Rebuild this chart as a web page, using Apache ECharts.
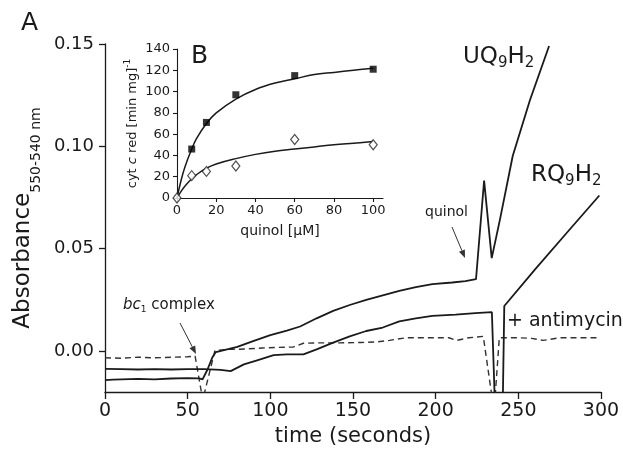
<!DOCTYPE html>
<html><head><meta charset="utf-8">
<script src="https://cdn.jsdelivr.net/npm/echarts@6/dist/echarts.min.js"></script>
<style>html,body{margin:0;padding:0;background:#fff}#c{width:623px;height:457px}</style>
</head><body><div id="c"></div>
<script>
// ---- Main panel A data (time in s, absorbance) ----
const tUQ = [0,5,10,20,30,40,50,57,59,62,65,67,72,80,90,100,110,118,128,138,148,158,168,178,188,198,210,218,224.4,229.3,233.9,239,246.6,257,268.6];
const vUQ = [-0.0142,-0.0140,-0.0138,-0.0136,-0.0138,-0.0134,-0.0132,-0.0133,-0.0138,-0.0090,-0.0030,-0.0005,0.0005,0.0020,0.0050,0.0078,0.0100,0.0120,0.0160,0.0196,0.0225,0.0250,0.0272,0.0294,0.0312,0.0327,0.0335,0.0342,0.0351,0.0833,0.0454,0.0647,0.0953,0.1225,0.1490];
const tRQ = [0,10,20,30,40,50,60,70,76,84,92,102,110,120,128,138,148,158,168,178,188,198,212,224,234,236,240.5,241.5,260,280,299];
const vRQ = [-0.0087,-0.0088,-0.0090,-0.0088,-0.0090,-0.0088,-0.0088,-0.0092,-0.0098,-0.0065,-0.0045,-0.0020,-0.0016,-0.0016,0.0008,0.0041,0.0072,0.0098,0.0115,0.0145,0.0160,0.0172,0.0178,0.0185,0.0190,-0.0300,-0.0300,0.0220,0.0398,0.0584,0.0760];
const tAM = [0,10,20,30,40,50,54.5,58.5,60,66.5,75,85,95,105,114,120,130,142,155,165,172,182,195,208,212.7,220,228.8,234,236,238.5,250,258,265,275,290,299.5];
const vAM = [-0.0033,-0.0035,-0.0030,-0.0033,-0.0030,-0.0028,-0.0025,-0.0210,-0.0210,0.0003,0.0008,0.0010,0.0015,0.0018,0.0020,0.0038,0.0040,0.0040,0.0042,0.0045,0.0052,0.0065,0.0065,0.0065,0.0052,0.0065,0.0072,-0.0220,-0.0220,0.0065,0.0065,0.0062,0.0052,0.0065,0.0065,0.0065];
const timeTicks = [0,50,100,150,200,250,300];
const absTicks = [0,0.05,0.10,0.15];

// ---- Inset B data (quinol uM, cyt c red rate) ----
const qSq = [7.5,15,30,60,100];
const vSq = [46,71,97,115,121];
const qDi = [0,7.5,15,30,60,100];
const vDi = [0,21,25,30,55,50];
const qFit = [0,2,4,7.5,10,15,20,30,40,50,60,70,80,90,100];
const vFitSq = [0,16,29,46,56,70,80,93,102,108,112,116,118,120,122];
const vFitDi = [0,6,11,18,22,28,32,37,41,44,46,48,50,51.5,53];
const quinolTicks = [0,20,40,60,80,100];

const zip = (a,b) => a.map((x,i)=>[x,b[i]]);
const FF = 'DejaVu Sans';
const INK = '#1a1a1a';

function arrow(x1,y1,x2,y2){
  const a=Math.atan2(y2-y1,x2-x1), L=8, W=3.2;
  const bx=x2-L*Math.cos(a), by=y2-L*Math.sin(a);
  const px=-Math.sin(a)*W, py=Math.cos(a)*W;
  return [
    {type:'line',shape:{x1,y1,x2:bx,y2:by},style:{stroke:'#333',lineWidth:1}},
    {type:'polygon',shape:{points:[[x2,y2],[bx+px,by+py],[bx-px,by-py]]},style:{fill:'#333'}}
  ];
}

const chart = echarts.init(document.getElementById('c'), null, {renderer:'canvas'});
const axisBase = {
  axisLine:{show:true,onZero:false,lineStyle:{color:INK,width:1.3}},
  splitLine:{show:false}
};
chart.setOption({
  animation:false,
  backgroundColor:'#fff',
  grid:[
    {left:105, top:44, width:496, height:348, containLabel:false, outerBoundsMode:'none'},
    {left:177, top:49, width:206, height:149, containLabel:false, outerBoundsMode:'none'}
  ],
  xAxis:[
    Object.assign({}, axisBase, {
      gridIndex:0, type:'value', min:0, max:300, interval:50,
      axisTick:{show:true,length:7,lineStyle:{color:INK,width:1.3}},
      axisLabel:{fontFamily:FF,fontSize:19,color:INK,margin:10,
        customValues:timeTicks},
      name:'time (seconds)', nameLocation:'middle', nameGap:33,
      nameTextStyle:{fontFamily:FF,fontSize:21,color:INK}
    }),
    Object.assign({}, axisBase, {
      gridIndex:1, type:'value', min:0, max:105,
      axisLine:{show:true,onZero:false,lineStyle:{color:INK,width:1.1}},
      axisTick:{show:true,length:4,customValues:quinolTicks,lineStyle:{color:INK,width:1.1}},
      axisLabel:{fontFamily:FF,fontSize:13,color:INK,margin:6,customValues:quinolTicks},
      name:'quinol [µM]', nameLocation:'middle', nameGap:26,
      nameTextStyle:{fontFamily:FF,fontSize:14,color:INK}
    })
  ],
  yAxis:[
    Object.assign({}, axisBase, {
      gridIndex:0, type:'value', min:-0.02, max:0.15,
      axisTick:{show:true,length:6,customValues:absTicks,lineStyle:{color:INK,width:1.3}},
      axisLabel:{fontFamily:FF,fontSize:18,color:INK,margin:11,customValues:absTicks,
        formatter:v=>v.toFixed(2)},
      name:'{a|Absorbance}{b|550-540 nm}', nameLocation:'middle', nameRotate:90, nameGap:64,
      nameTextStyle:{rich:{
        a:{fontFamily:FF,fontSize:23,color:INK,lineHeight:24},
        b:{fontFamily:FF,fontSize:14,color:INK,lineHeight:14,padding:[26,0,0,0]}
      }}
    }),
    Object.assign({}, axisBase, {
      gridIndex:1, type:'value', min:0, max:140, interval:20,
      axisLine:{show:true,onZero:false,lineStyle:{color:INK,width:1.1}},
      axisTick:{show:true,length:4,lineStyle:{color:INK,width:1.1}},
      axisLabel:{fontFamily:FF,fontSize:13,color:INK,margin:7},
      name:'{a|cyt }{i|c}{a| red [min mg]}{s|-1}', nameLocation:'middle', nameRotate:90, nameGap:33,
      nameTextStyle:{rich:{
        a:{fontFamily:FF,fontSize:13,color:INK,lineHeight:16},
        i:{fontFamily:FF,fontSize:13,fontStyle:'italic',color:INK,lineHeight:16},
        s:{fontFamily:FF,fontSize:9,color:INK,lineHeight:9,padding:[0,0,9,0]}
      }}
    })
  ],
  series:[
    {type:'line', name:'RQ9H2', xAxisIndex:0, yAxisIndex:0, data:zip(tRQ,vRQ), showSymbol:false,
      lineStyle:{color:INK,width:1.8}, clip:true, z:3},
    {type:'line', name:'UQ9H2', xAxisIndex:0, yAxisIndex:0, data:zip(tUQ,vUQ), showSymbol:false,
      lineStyle:{color:INK,width:1.8}, clip:true, z:3},
    {type:'line', name:'antimycin', xAxisIndex:0, yAxisIndex:0, data:zip(tAM,vAM), showSymbol:false,
      lineStyle:{color:'#333',width:1.4,type:[6,4]}, clip:true, z:2},
    {type:'line', name:'fitSq', xAxisIndex:1, yAxisIndex:1, data:zip(qFit,vFitSq), showSymbol:false, smooth:0.4,
      lineStyle:{color:INK,width:1.5}, z:4},
    {type:'line', name:'fitDi', xAxisIndex:1, yAxisIndex:1, data:zip(qFit,vFitDi), showSymbol:false, smooth:0.4,
      lineStyle:{color:INK,width:1.5}, z:4},
    {type:'scatter', name:'sq', xAxisIndex:1, yAxisIndex:1, data:zip(qSq,vSq), symbol:'rect', symbolSize:7,
      itemStyle:{color:'#000'}, z:5},
    {type:'scatter', name:'di', xAxisIndex:1, yAxisIndex:1, data:zip(qDi,vDi), symbol:'diamond', symbolSize:[8,10],
      itemStyle:{color:'#fff',borderColor:'#222',borderWidth:1.2}, z:5}
  ],
  graphic:[
    {type:'text', left:21, top:11, style:{text:'A', font:'25px "DejaVu Sans"', fill:INK}},
    {type:'text', left:191, top:44, style:{text:'B', font:'25px "DejaVu Sans"', fill:INK}},
    {type:'text', left:463, top:44, style:{text:'{a|UQ}{s|9}{a|H}{s|2}', rich:{
      a:{fontFamily:FF,fontSize:23,fill:INK,lineHeight:26},
      s:{fontFamily:FF,fontSize:15,fill:INK,lineHeight:15,padding:[12,0,0,0]}}}},
    {type:'text', left:531, top:162, style:{text:'{a|RQ}{s|9}{a|H}{s|2}', rich:{
      a:{fontFamily:FF,fontSize:23,fill:INK,lineHeight:26},
      s:{fontFamily:FF,fontSize:15,fill:INK,lineHeight:15,padding:[12,0,0,0]}}}},
    {type:'text', left:507, top:312, style:{text:'+ antimycin', font:'19px "DejaVu Sans"', fill:INK}},
    {type:'text', left:425, top:205, style:{text:'quinol', font:'14px "DejaVu Sans"', fill:INK}},
    {type:'text', left:123, top:297, style:{text:'{i|bc}{s|1}{a| complex}', rich:{
      i:{fontFamily:FF,fontSize:15,fontStyle:'italic',fill:INK,lineHeight:18},
      a:{fontFamily:FF,fontSize:15,fill:INK,lineHeight:18},
      s:{fontFamily:FF,fontSize:9,fill:INK,lineHeight:9,padding:[8,0,0,0]}}}},
    ...arrow(452,227,465,258),
    ...arrow(180,323,196,354)
  ]
});
</script></body></html>
